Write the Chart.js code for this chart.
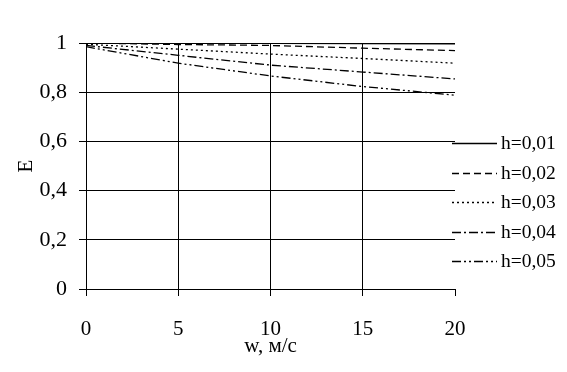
<!DOCTYPE html>
<html>
<head>
<meta charset="utf-8">
<script src="https://cdn.jsdelivr.net/npm/chart.js@4"></script>
<style>
  html, body { margin: 0; padding: 0; background: #fff; }
</style>
</head>
<body>
<canvas id="effChart" width="567" height="372"></canvas>
<script>
// Wind speed, m/s
const speeds = [0, 5, 10, 15, 20];
const seriesNames = ['h=0,01', 'h=0,02', 'h=0,03', 'h=0,04', 'h=0,05'];
// E values
const eH001 = [1.0, 1.0, 0.999, 0.998, 0.997];
const eH002 = [1.0, 0.994, 0.99, 0.979, 0.969];
const eH003 = [0.995, 0.975, 0.955, 0.937, 0.918];
const eH004 = [0.99, 0.95, 0.91, 0.882, 0.854];
const eH005 = [0.985, 0.918, 0.866, 0.823, 0.788];
const yTicks = [0, 0.2, 0.4, 0.6, 0.8, 1];

const dashes = [[], [7, 4], [2, 3], [9, 3, 2, 3], [9, 3, 2, 3, 2, 3]];
const serif = 'Liberation Serif';

function toPoints(values) {
    return speeds.map((w, i) => ({ x: w, y: values[i] }));
}

// simple right-hand legend with line samples
const sideLegend = {
    id: 'sideLegend',
    afterDraw(chart) {
        const ctx = chart.ctx;
        ctx.save();
        ctx.font = '19.5px "' + serif + '"';
        ctx.textBaseline = 'middle';
        ctx.fillStyle = '#000';
        chart.data.datasets.forEach((ds, i) => {
            const y = Math.round(143 + i * 29.5) + 0.5;
            ctx.beginPath();
            ctx.setLineDash(ds.borderDash);
            ctx.lineWidth = ds.borderWidth;
            ctx.strokeStyle = ds.borderColor;
            ctx.moveTo(452, y);
            ctx.lineTo(497, y);
            ctx.stroke();
            ctx.setLineDash([]);
            ctx.fillText(ds.label, 501, y);
        });
        ctx.restore();
    }
};

const ctx = document.getElementById('effChart').getContext('2d');
const effChart = new Chart(ctx, {
    type: 'line',
    data: {
        datasets: [eH001, eH002, eH003, eH004, eH005].map((vals, i) => ({
            label: seriesNames[i],
            data: toPoints(vals),
            borderColor: '#000',
            borderWidth: 1.3,
            borderDash: dashes[i],
            pointRadius: 0,
            tension: 0,
            fill: false
        }))
    },
    options: {
        responsive: false,
        animation: false,
        devicePixelRatio: 1,
        layout: { padding: { left: 0, right: 112, top: 43, bottom: 0 } },
        plugins: {
            legend: { display: false },
            tooltip: { enabled: false }
        },
        scales: {
            x: {
                type: 'linear',
                min: 0,
                max: 20,
                afterFit: s => { s.height = 83; },
                ticks: {
                    stepSize: 5,
                    color: '#000',
                    padding: 21,
                    font: { family: serif, size: 21 }
                },
                grid: {
                    color: c => (c.tick && c.tick.value === 20) ? 'rgba(0,0,0,0)' : '#000',
                    tickColor: '#000',
                    tickLength: 7,
                    lineWidth: 1
                },
                border: { color: '#000', width: 1 },
                title: {
                    display: true,
                    text: 'w, м/с',
                    color: '#000',
                    font: { family: serif, size: 21 },
                    padding: { top: 0, bottom: 13 }
                }
            },
            y: {
                min: 0,
                max: 1,
                afterFit: s => { s.width = 86; },
                afterBuildTicks: s => { s.ticks = yTicks.map(v => ({ value: v })); },
                ticks: {
                    color: '#000',
                    padding: 12,
                    font: { family: serif, size: 22 },
                    callback: v => String(Number(v.toFixed(1))).replace('.', ',')
                },
                grid: {
                    color: '#000',
                    tickLength: 7,
                    lineWidth: 1
                },
                border: { color: '#000', width: 1 },
                title: {
                    display: true,
                    text: 'E',
                    color: '#000',
                    font: { family: serif, size: 21 },
                    padding: { top: 14, bottom: 0 }
                }
            }
        }
    },
    plugins: [sideLegend]
});
</script>
</body>
</html>
